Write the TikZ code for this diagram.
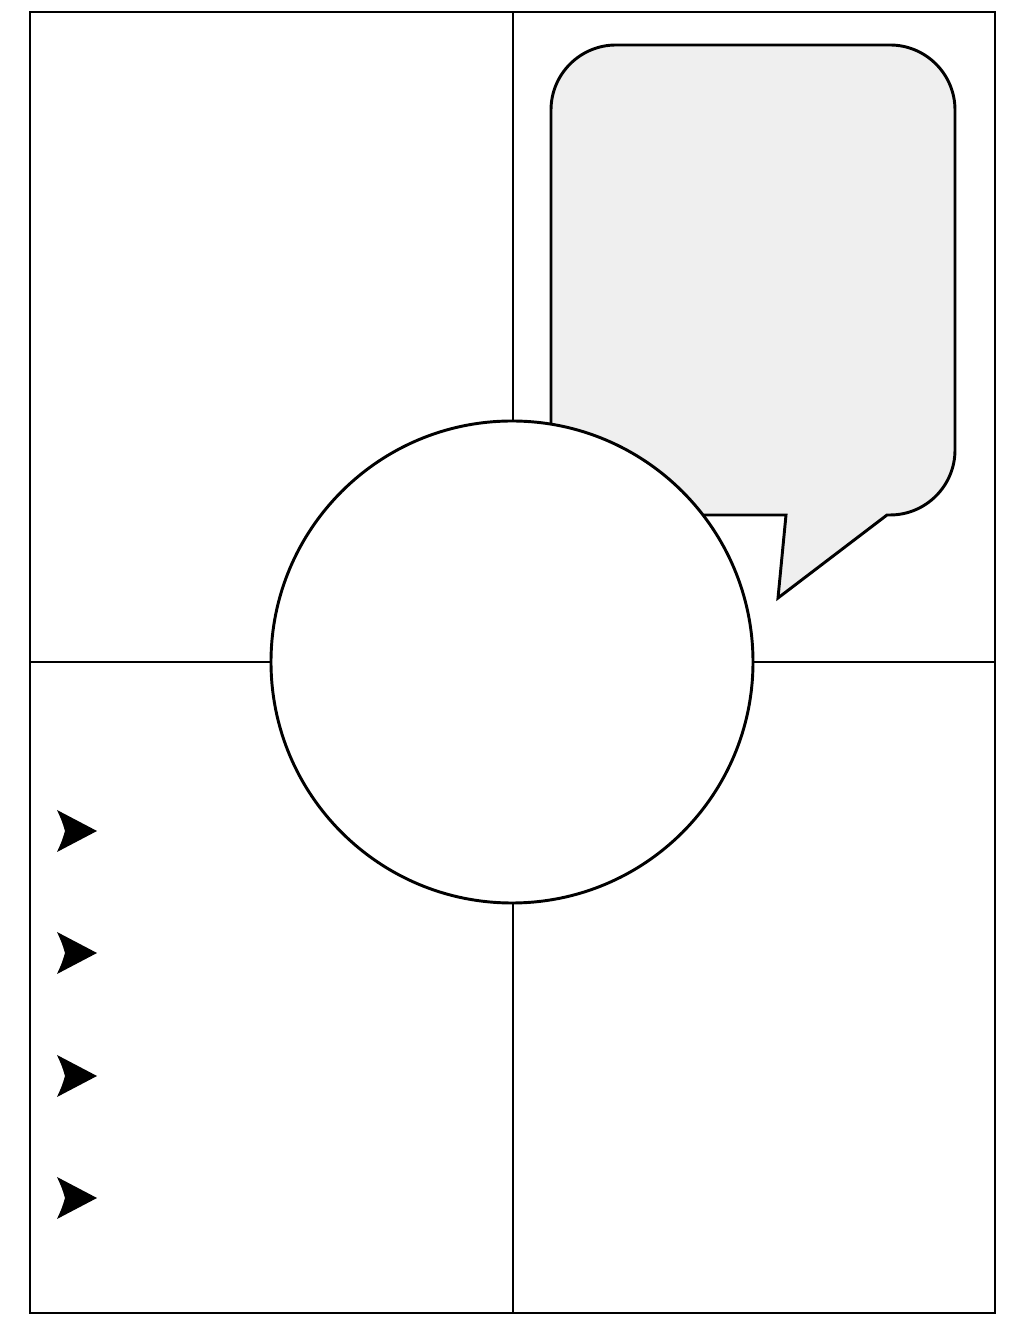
\documentclass[tikz,border=0pt]{standalone}
\definecolor{bubblefill}{HTML}{EFEFEF}
\begin{document}
\begin{tikzpicture}[x=0.75pt,y=0.75pt,
  stroke/.style={line width=2.2pt,line join=miter},
  pointer/.style={fill=black}]
\useasboundingbox (0,0) rectangle (1024,1325);
% frame and quadrant lines
\draw[stroke] (30,12) rectangle (995,1313);
\coordinate (top) at (513,1313);
\coordinate (bot) at (513,12);
\coordinate (lft) at (30,663);
\coordinate (rgt) at (995,663);
\draw[stroke] (top) -- (bot);
\draw[stroke] (lft) -- (rgt);
% speech bubble
\draw[stroke,fill=bubblefill]
  (616,810) -- (786,810) -- (778,727) -- (887,810) -- (890,810)
  arc[start angle=-90,end angle=0,radius=65] -- (955,1215)
  arc[start angle=0,end angle=90,radius=65] -- (616,1280)
  arc[start angle=90,end angle=180,radius=65] -- (551,875)
  arc[start angle=180,end angle=270,radius=65] -- cycle;
% central circle
\node[stroke,draw,fill=white,circle,inner sep=0pt,minimum size=361.5pt] (hub) at (512,663) {};
% pointers
\foreach \yy in {494,372,249,127}{
  \fill[pointer] (97,\yy) -- (57,\yy+21) .. controls (62,\yy+10) .. (65,\yy) .. controls (62,\yy-10) .. (57,\yy-21) -- cycle;
}
\end{tikzpicture}
\end{document}
